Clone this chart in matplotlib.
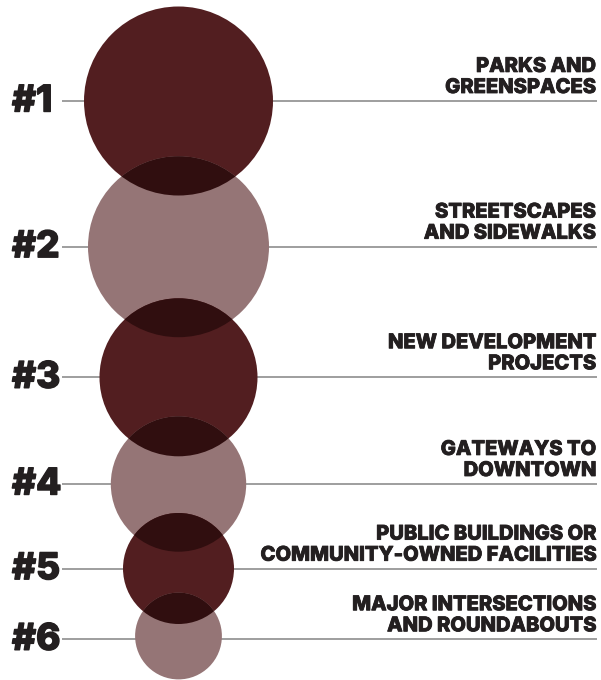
import matplotlib
matplotlib.use("Agg")
import matplotlib.pyplot as plt
import matplotlib.patheffects as pe
from matplotlib.patches import Circle
from matplotlib.colors import to_rgb

# ---- data ----
ranks = ["#1", "#2", "#3", "#4", "#5", "#6"]
labels = [
    "PARKS AND\nGREENSPACES",
    "STREETSCAPES\nAND SIDEWALKS",
    "NEW DEVELOPMENT\nPROJECTS",
    "GATEWAYS TO\nDOWNTOWN",
    "PUBLIC BUILDINGS OR\nCOMMUNITY-OWNED FACILITIES",
    "MAJOR INTERSECTIONS\nAND ROUNDABOUTS",
]
scores = [94.5, 90.5, 79.0, 67.7, 55.5, 43.4]   # bubble radius score

# ---- layout ----
row_y = [101, 246.7, 377.3, 484, 568.7, 639.3]
bubble_y = [101, 246.7, 377.3, 484, 568.5, 636]
cx = 178.5
dark = "#521e20"
light = "#957576"
colors = [dark if i % 2 == 0 else light for i in range(len(ranks))]
text_color = "#231f20"
line_color = "#8e8e8e"

W, H = 601, 680
fig = plt.figure(figsize=(W / 100, H / 100), dpi=100)
ax = fig.add_axes([0, 0, 1, 1])
ax.set_xlim(0, W)
ax.set_ylim(H, 0)
ax.axis("off")

font = dict(family=["Inter", "DejaVu Sans"], weight="heavy", color=text_color)
heavy = [pe.withStroke(linewidth=0.6, foreground=text_color)]
heavy_big = [pe.withStroke(linewidth=1.0, foreground=text_color)]

for i, (rk, lab, y) in enumerate(zip(ranks, labels, row_y)):
    ax.plot([62, 597], [y, y], color=line_color, lw=1.2, zorder=1,
            solid_capstyle="butt")
    ax.text(12, y + 1, rk, ha="left", va="center", fontsize=26.5,
            path_effects=heavy_big, **font)
    ax.text(596, y - 4, lab, ha="right", va="bottom", fontsize=14.5,
            multialignment="right", linespacing=1.22,
            path_effects=heavy, **font)

circles = []
for i, (r, y, c) in enumerate(zip(scores, bubble_y, colors)):
    p = Circle((cx, y), r, facecolor=c, edgecolor="none", zorder=2)
    ax.add_patch(p)
    circles.append(p)

# multiply-blend overlaps between neighbouring bubbles
for i in range(len(circles) - 1):
    c1 = to_rgb(colors[i])
    c2 = to_rgb(colors[i + 1])
    mc = tuple(a * b for a, b in zip(c1, c2))
    lens = Circle((cx, bubble_y[i + 1]), scores[i + 1], facecolor=mc,
                  edgecolor="none", zorder=3)
    ax.add_patch(lens)
    lens.set_clip_path(circles[i])

fig.savefig("out.png", dpi=100)
